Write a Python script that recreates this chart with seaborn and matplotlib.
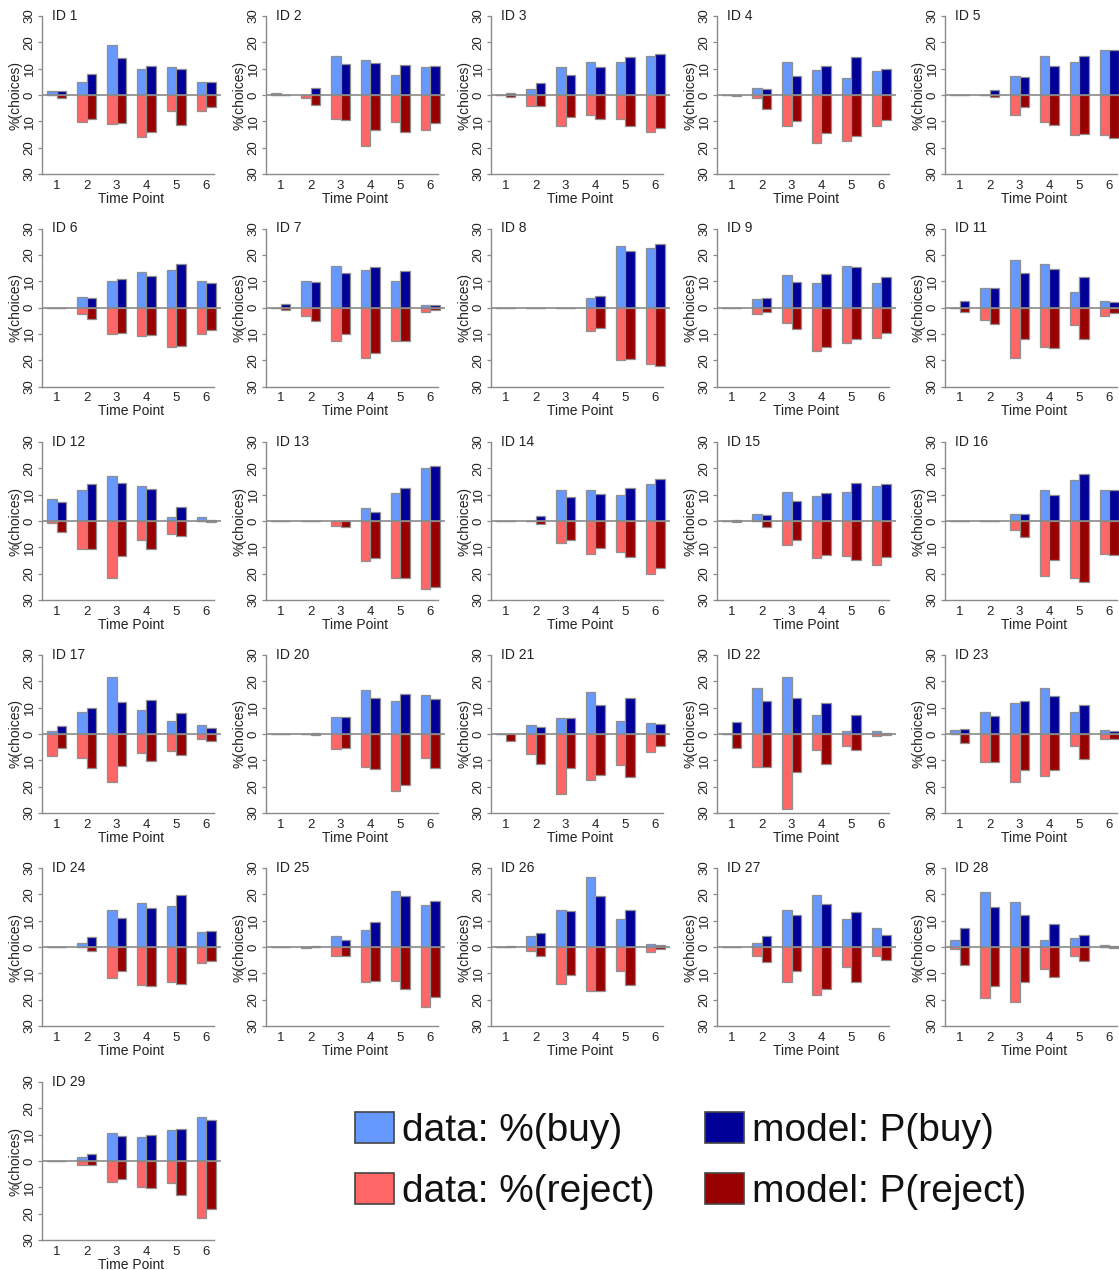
import numpy as np
import pandas as pd
import matplotlib
matplotlib.use("Agg")
import matplotlib.pyplot as plt
from matplotlib.patches import Patch
import seaborn as sns

# ---------------- data ----------------
panel_ids = [1, 2, 3, 4, 5, 6, 7, 8, 9, 11, 12, 13, 14, 15, 16, 17,
             20, 21, 22, 23, 24, 25, 26, 27, 28, 29]
time_points = ["1", "2", "3", "4", "5", "6"]
y_ticks = [-30, -20, -10, 0, 10, 20, 30]
y_tick_labels = ["30", "20", "10", "0", "10", "20", "30"]

data_buy = [
    [1.6, 4.9, 19.1, 9.9, 10.7, 4.9],
    [0.9, 0, 14.9, 13.2, 7.5, 10.8],
    [0, 2.4, 10.8, 12.4, 12.4, 14.8],
    [0, 2.5, 12.4, 9.4, 6.5, 9.2],
    [0, 0, 7.3, 14.8, 12.4, 17.2],
    [0, 4.0, 10.0, 13.3, 14.2, 10.0],
    [0, 10.0, 15.8, 14.2, 10.0, 1.0],
    [0, 0, 0, 3.5, 23.3, 22.5],
    [0, 3.4, 12.4, 9.4, 15.8, 9.3],
    [0, 7.5, 18.1, 16.6, 5.9, 2.5],
    [8.3, 11.7, 17.2, 13.2, 1.6, 1.6],
    [0, 0, 0, 5.0, 10.8, 20.1],
    [0, 0, 11.7, 11.7, 10.0, 14.1],
    [0, 2.5, 10.9, 9.4, 10.9, 13.3],
    [0, 0, 2.5, 11.7, 15.7, 11.7],
    [1.0, 8.4, 21.5, 9.3, 5.0, 3.4],
    [0, 0, 6.5, 16.7, 12.4, 14.8],
    [0, 3.4, 5.9, 15.8, 5.0, 4.1],
    [0, 17.3, 21.5, 7.4, 1.0, 1.0],
    [1.6, 8.4, 11.6, 17.3, 8.4, 1.7],
    [0, 1.6, 14.0, 16.6, 15.7, 5.8],
    [0, 0, 4.0, 6.6, 21.4, 15.8],
    [0, 4.1, 14.1, 26.5, 10.7, 1.0],
    [0, 1.6, 14.1, 19.9, 10.7, 7.4],
    [2.5, 20.7, 17.2, 2.5, 3.4, 0.9],
    [0, 1.7, 10.8, 9.2, 11.6, 16.7],
]

model_buy = [
    [1.4, 7.8, 14.0, 10.9, 9.7, 4.8],
    [0, 2.5, 11.6, 12.3, 11.5, 11.0],
    [0.8, 4.6, 7.5, 10.5, 14.4, 15.6],
    [0, 2.3, 7.3, 11.0, 14.3, 9.7],
    [0, 2.0, 7.0, 11.0, 14.8, 17.2],
    [0, 3.6, 10.7, 11.9, 16.6, 9.4],
    [1.4, 9.6, 13.1, 15.5, 13.7, 0.8],
    [0, 0, 0, 4.2, 21.5, 24.1],
    [0, 3.6, 9.8, 12.9, 15.5, 11.4],
    [2.3, 7.3, 13.0, 14.6, 11.5, 2.0],
    [7.4, 14.1, 14.4, 12.3, 5.4, 0.4],
    [0, 0, 0, 3.5, 12.4, 21.0],
    [0, 1.9, 9.2, 10.1, 12.5, 16.0],
    [0.3, 2.1, 7.6, 10.5, 14.4, 13.9],
    [0, 0, 2.5, 10.0, 17.9, 11.7],
    [3.0, 10.0, 12.2, 12.8, 8.1, 2.3],
    [0, 0.4, 6.5, 13.5, 15.3, 13.2],
    [0, 2.6, 6.2, 11.0, 13.5, 3.8],
    [4.6, 12.4, 13.6, 11.6, 7.3, 0.3],
    [1.9, 7.0, 12.4, 14.4, 11.1, 1.0],
    [0, 3.8, 10.9, 14.8, 19.6, 6.0],
    [0, 0.2, 2.5, 9.4, 19.4, 17.3],
    [0.3, 5.4, 13.6, 19.5, 14.0, 0.8],
    [0, 4.0, 12.0, 16.4, 13.2, 4.4],
    [7.2, 15.3, 12.2, 8.8, 4.4, 0.2],
    [0, 2.6, 9.4, 9.9, 12.2, 15.5],
]

data_reject = [
    [0, 10.1, 10.9, 15.8, 5.9, 5.9],
    [0, 1.0, 9.2, 19.4, 10.1, 13.3],
    [0, 4.2, 11.8, 7.6, 9.2, 14.0],
    [0, 1.0, 11.8, 18.2, 17.6, 11.8],
    [0, 0, 7.5, 10.1, 15.1, 15.1],
    [0.2, 2.5, 10.0, 10.8, 15.1, 10.0],
    [0, 3.4, 12.7, 19.1, 12.7, 1.8],
    [0, 0, 0.3, 9.1, 19.9, 21.6],
    [0, 2.5, 5.9, 16.6, 13.3, 11.6],
    [0, 4.8, 19.0, 15.0, 6.6, 3.3],
    [0.9, 10.8, 21.6, 7.4, 4.9, 0],
    [0, 0, 1.8, 15.1, 21.6, 25.8],
    [0, 0, 8.3, 12.5, 11.6, 20.0],
    [0, 0, 9.1, 14.1, 13.3, 16.6],
    [0, 0, 3.4, 21.0, 21.6, 12.5],
    [8.4, 9.1, 18.3, 7.4, 6.6, 1.8],
    [0, 0, 5.8, 12.5, 21.6, 9.1],
    [0, 7.5, 22.6, 17.6, 11.8, 6.8],
    [0, 12.6, 28.5, 5.9, 4.4, 0.9],
    [0, 10.8, 18.3, 15.9, 4.4, 1.8],
    [0, 0, 11.6, 14.3, 13.3, 5.9],
    [0, 0.2, 3.4, 13.3, 12.8, 22.6],
    [0, 1.7, 14.2, 16.7, 9.1, 1.8],
    [0, 3.4, 13.3, 18.4, 7.5, 3.4],
    [0.9, 19.2, 21.0, 8.2, 3.4, 0],
    [0, 1.6, 8.1, 10.0, 8.3, 21.5],
]

model_reject = [
    [1.3, 9.2, 10.8, 14.2, 11.3, 4.7],
    [0, 3.9, 9.4, 13.2, 14.2, 10.5],
    [0.6, 4.1, 8.4, 9.1, 11.8, 12.5],
    [0.3, 5.2, 10.0, 14.3, 15.6, 9.5],
    [0, 0.8, 4.6, 11.3, 14.8, 16.3],
    [0, 4.4, 9.8, 10.6, 14.6, 8.6],
    [0.8, 5.2, 10.1, 17.2, 12.7, 1.0],
    [0, 0, 0, 7.6, 19.6, 22.1],
    [0, 1.6, 8.3, 15.1, 11.9, 9.5],
    [1.8, 6.4, 11.8, 15.3, 11.8, 2.0],
    [4.3, 10.8, 13.4, 10.8, 5.6, 0.5],
    [0, 0, 2.3, 13.9, 21.7, 25.0],
    [0, 1.0, 7.3, 10.4, 13.6, 17.8],
    [0.3, 2.4, 7.3, 12.8, 14.9, 13.8],
    [0, 0, 6.0, 14.9, 23.1, 13.0],
    [5.3, 12.8, 12.3, 10.3, 8.0, 2.6],
    [0, 0.4, 5.3, 13.2, 19.4, 12.8],
    [2.5, 11.4, 12.8, 15.4, 16.5, 4.6],
    [5.5, 12.6, 14.6, 11.3, 5.9, 0.3],
    [3.3, 10.6, 13.7, 13.6, 9.4, 2.0],
    [0, 1.5, 9.1, 14.8, 14.0, 5.3],
    [0, 0, 3.5, 12.9, 16.0, 18.8],
    [0, 3.5, 10.8, 16.7, 14.4, 0.9],
    [0, 5.8, 9.2, 16.0, 13.2, 5.1],
    [6.8, 14.7, 13.2, 11.4, 5.2, 0.3],
    [0, 1.7, 6.8, 10.4, 13.1, 18.1],
]

legend_labels = ["data: %(buy)", "data: %(reject)", "model: P(buy)", "model: P(reject)"]

# ---------------- style ----------------
C_DATA_BUY = "#6699FF"
C_MODEL_BUY = "#000099"
C_DATA_REJ = "#FF6666"
C_MODEL_REJ = "#990000"
EDGE = "#8f8f8f"
AXCOL = "#8a8a8a"

sns.set_theme(style="white")
plt.rcParams["font.family"] = ["Liberation Sans", "DejaVu Sans"]

W, H = 1119, 1270
fig = plt.figure(figsize=(W / 100, H / 100), dpi=100)

col_left = [42, 266, 491, 717, 945]
row_top = [16, 228.5, 442, 655, 868, 1082]
AW, AH = 179, 158


def panel(ax, pid, db, mb, dr, mr):
    buy = pd.DataFrame({"tp": time_points * 2,
                        "val": list(db) + list(mb),
                        "src": ["data"] * 6 + ["model"] * 6})
    rej = pd.DataFrame({"tp": time_points * 2,
                        "val": [-v for v in dr] + [-v for v in mr],
                        "src": ["data"] * 6 + ["model"] * 6})
    common = dict(x="tp", y="val", hue="src", order=time_points,
                  hue_order=["data", "model"], width=0.64, saturation=1,
                  errorbar=None, edgecolor=EDGE, linewidth=0.9,
                  legend=False, ax=ax)
    sns.barplot(data=buy, palette=[C_DATA_BUY, C_MODEL_BUY], **common)
    sns.barplot(data=rej, palette=[C_DATA_REJ, C_MODEL_REJ], **common)
    ax.axhline(0, color=AXCOL, lw=1.2, zorder=4)
    ax.set_xlim(-0.5, 5.5)
    ax.set_ylim(-30, 30)
    ax.set_yticks(y_ticks)
    ax.set_yticklabels(y_tick_labels, rotation=90, va="center")
    ax.tick_params(axis="y", length=3, width=0.9, color=AXCOL, pad=1.5,
                   labelsize=9.5, labelcolor="#222222", left=True)
    ax.tick_params(axis="x", length=0, pad=4, labelsize=9.5, labelcolor="#222222")
    for s in ["top", "right"]:
        ax.spines[s].set_visible(False)
    ax.spines["left"].set_bounds(-30, 30)
    ax.spines["left"].set_color(AXCOL)
    ax.spines["left"].set_linewidth(1.0)
    ax.spines["bottom"].set_bounds(-0.5, 5.25)
    ax.spines["bottom"].set_color(AXCOL)
    ax.spines["bottom"].set_linewidth(1.0)
    ax.set_xlabel("Time Point", fontsize=10, labelpad=0, color="#222222")
    ax.set_ylabel("%(choices)", fontsize=10, labelpad=1, color="#222222")
    ax.text(10 / AW, 1.0, f"ID {pid}", transform=ax.transAxes, fontsize=10,
            ha="left", va="center", color="#222222")
    ax.set_facecolor("none")


for k, pid in enumerate(panel_ids):
    r, c = (k // 5, k % 5) if k < 25 else (5, 0)
    left = col_left[c] / W
    bottom = 1 - (row_top[r] + AH) / H
    ax = fig.add_axes([left, bottom, AW / W, AH / H])
    panel(ax, pid, data_buy[k], model_buy[k], data_reject[k], model_reject[k])

handles = [Patch(facecolor=C_DATA_BUY, edgecolor="#444444", lw=1.2),
           Patch(facecolor=C_DATA_REJ, edgecolor="#444444", lw=1.2),
           Patch(facecolor=C_MODEL_BUY, edgecolor="#444444", lw=1.2),
           Patch(facecolor=C_MODEL_REJ, edgecolor="#444444", lw=1.2)]
fig.legend(handles, legend_labels, loc="upper left",
           bbox_to_anchor=(355 / W, 1 - 1112 / H), ncol=2, frameon=False,
           fontsize=28, handlelength=1.0, handleheight=0.85,
           handletextpad=0.2, columnspacing=1.3, labelspacing=0.62,
           borderaxespad=0, borderpad=0, labelcolor="#111111")

fig.savefig("out.png", dpi=100)
